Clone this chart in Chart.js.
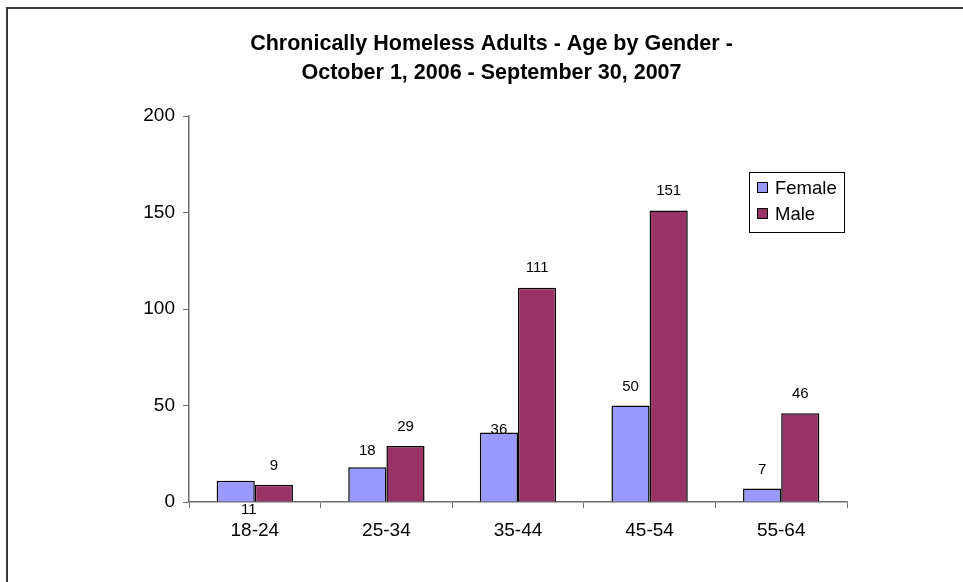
<!DOCTYPE html>
<html>
<head>
<meta charset="utf-8">
<script src="https://cdn.jsdelivr.net/npm/chart.js@4/dist/chart.umd.min.js"></script>
<style>
  html, body { margin: 0; padding: 0; background: #ffffff; }
  #wrap { position: relative; width: 963px; height: 582px; overflow: hidden; }
  #frame { position: absolute; left: 6px; top: 7px; width: 1000px; height: 640px; border: 2px solid #3a3a3a; box-sizing: border-box; }
  canvas { position: absolute; left: 0; top: 0; }
</style>
</head>
<body>
<div id="wrap">
  <div id="frame"></div>
  <canvas id="c" width="963" height="582"></canvas>
</div>
<script>
const titleLines = ["Chronically Homeless Adults - Age by Gender -", "October 1, 2006 - September 30, 2007"];
const categories = ["18-24", "25-34", "35-44", "45-54", "55-64"];
const femaleValues = [11, 18, 36, 50, 7];
const maleValues = [9, 29, 111, 151, 46];
const seriesNames = ["Female", "Male"];
const yTicks = [0, 50, 100, 150, 200];

// label placement quirks (style only): offset of label centre from bar top
const labelDy = [[29, -16, -3, -19, -19], [-19, -19, -20, -20, -19]];
const labelDx = [[13, 0, 0, 0, 0], [0, 0, 0, 0, 0]];

const FONT = "'Liberation Sans', Arial, sans-serif";

const dataLabels = {
  id: 'dataLabels',
  afterDatasetsDraw(chart) {
    const ctx = chart.ctx;
    ctx.save();
    ctx.font = "15px " + FONT;
    ctx.fillStyle = "#000";
    ctx.textAlign = "center";
    ctx.textBaseline = "middle";
    chart.data.datasets.forEach((ds, di) => {
      chart.getDatasetMeta(di).data.forEach((bar, i) => {
        ctx.fillText(String(ds.data[i]), bar.x + labelDx[di][i], bar.y + labelDy[di][i]);
      });
    });
    ctx.restore();
  }
};

const boxLegend = {
  id: 'boxLegend',
  afterDraw(chart) {
    const ctx = chart.ctx;
    const x = 749.5, y = 172.5, w = 95, h = 60;
    ctx.save();
    ctx.fillStyle = "#fff";
    ctx.fillRect(x, y, w, h);
    ctx.strokeStyle = "#000";
    ctx.lineWidth = 1;
    ctx.strokeRect(x, y, w, h);
    ctx.font = "18.5px " + FONT;
    ctx.textBaseline = "middle";
    ctx.textAlign = "left";
    chart.data.datasets.forEach((ds, i) => {
      const cy = 187.5 + i * 26;
      ctx.fillStyle = ds.backgroundColor;
      ctx.fillRect(757.5, cy - 5, 10, 10);
      ctx.strokeStyle = "#000";
      ctx.strokeRect(757.5, cy - 5, 10, 10);
      ctx.fillStyle = "#000";
      ctx.fillText(ds.label, 775, cy + 1);
    });
    ctx.restore();
  }
};

new Chart(document.getElementById('c'), {
  type: 'bar',
  data: {
    labels: categories,
    datasets: [
      { label: seriesNames[0], data: femaleValues, backgroundColor: '#9999FF', borderColor: '#000', borderWidth: 1.5, yAxisID: 'y' },
      { label: seriesNames[1], data: maleValues, backgroundColor: '#993366', borderColor: '#000', borderWidth: 1.5, yAxisID: 'y' }
    ]
  },
  options: {
    responsive: false,
    animation: false,
    devicePixelRatio: 1,
    layout: { padding: { left: 20, right: 0, top: 0, bottom: 0 } },
    datasets: { bar: { categoryPercentage: 0.58, barPercentage: 1.0 } },
    plugins: {
      legend: { display: false },
      tooltip: { enabled: false },
      title: {
        display: true,
        text: titleLines,
        color: '#000',
        font: { family: FONT, size: 21.5, weight: 'bold', lineHeight: 1.35 },
        padding: { top: 30, bottom: 28 }
      }
    },
    scales: {
      x: {
        grid: { display: true, drawOnChartArea: false, drawTicks: true, tickLength: 6, color: '#6e6e6e', offset: true },
        border: { display: true, color: '#6e6e6e', width: 1.5 },
        ticks: { color: '#000', font: { family: FONT, size: 19 }, padding: 11, maxRotation: 0 },
        afterFit(s) { s.height = 80; }
      },
      y: {
        min: 0, max: 200,
        afterBuildTicks(s) { s.ticks = yTicks.map(v => ({ value: v })); },
        grid: { display: true, drawOnChartArea: false, drawTicks: true, tickLength: 6, color: '#6e6e6e' },
        border: { display: true, color: '#6e6e6e', width: 1.5 },
        ticks: { color: '#000', font: { family: FONT, size: 19 }, padding: 8 },
        afterFit(s) { s.width = 169; }
      },
      yr: {
        position: 'right',
        display: true,
        grid: { display: false },
        border: { display: false },
        ticks: { display: false },
        afterFit(s) { s.width = 116; }
      }
    }
  },
  plugins: [dataLabels, boxLegend]
});
</script>
</body>
</html>
